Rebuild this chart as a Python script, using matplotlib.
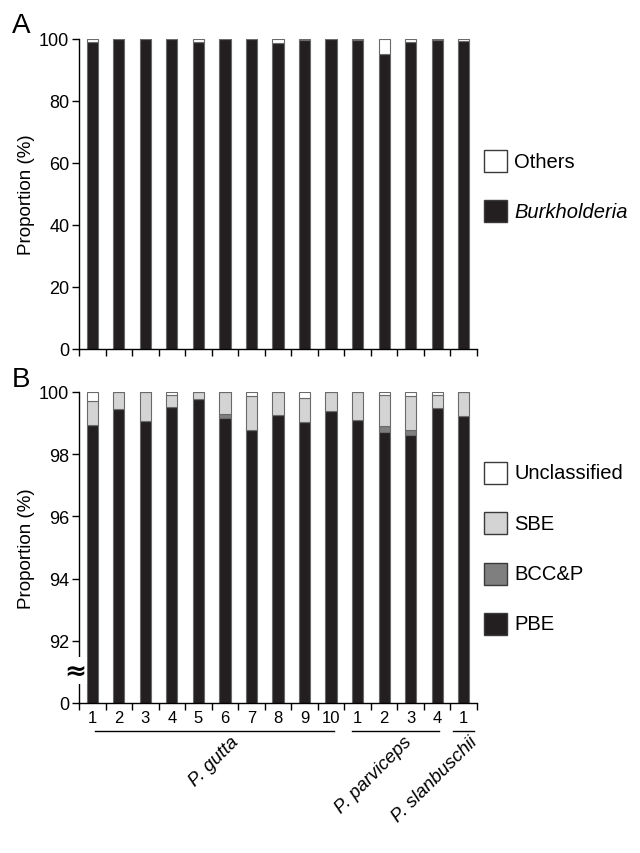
import numpy as np
import matplotlib
import matplotlib.pyplot as plt
from matplotlib.patches import Rectangle
from matplotlib.transforms import blended_transform_factory

matplotlib.use("Agg")
plt.rcParams['font.family'] = ['Liberation Sans', 'DejaVu Sans']

# sample labels and groups
sample_labels = ['1', '2', '3', '4', '5', '6', '7', '8', '9', '10',
                 '1', '2', '3', '4', '1']
groups = ['P. gutta', 'P. parviceps', 'P. slanbuschii']

# panel A (%)
burkholderia = [99.0, 100, 100, 100, 99.0, 100, 100, 98.7, 99.7, 100,
                99.7, 95.2, 99.0, 99.8, 99.2]
others = [1.0, 0, 0, 0, 1.0, 0, 0, 1.3, 0.3, 0,
          0.3, 4.8, 1.0, 0.2, 0.8]

# panel B (%)
pbe = [98.95, 99.45, 99.06, 99.53, 99.76, 99.17, 98.77, 99.26, 99.02, 99.40,
       99.10, 98.70, 98.62, 99.50, 99.24]
bccp = [0, 0, 0, 0, 0, 0.13, 0, 0, 0, 0,
        0, 0.21, 0.15, 0, 0]
sbe = [0.77, 0.55, 0.94, 0.37, 0.24, 0.70, 1.11, 0.74, 0.78, 0.60,
       0.90, 0.99, 1.11, 0.41, 0.76]
unclassified = [0.28, 0, 0, 0.10, 0, 0, 0.12, 0, 0.20, 0,
                0, 0.10, 0.12, 0.09, 0]

BLACK = '#231f20'
LIGHT = '#d4d4d4'
MID = '#7f7f7f'
EDGE = '#6a6a6a'
W, H = 640, 854

x = np.arange(len(sample_labels))
bw = 0.42

fig = plt.figure(figsize=(W / 100, H / 100), dpi=100)
ax_a = fig.add_axes([79 / W, 1 - 350 / H, 398 / W, 310 / H])
ax_b = fig.add_axes([79 / W, 1 - 704 / H, 398 / W, 311 / H])


def style_axis(ax):
    for s in ['top', 'right']:
        ax.spines[s].set_visible(False)
    for s in ['left', 'bottom']:
        ax.spines[s].set_linewidth(1.0)
    ax.set_xlim(-0.5, 14.5)
    ax.set_xticks(x)
    ax.set_xticks(np.arange(-0.5, 15, 1), minor=True)
    ax.tick_params(axis='x', which='major', length=0, labelsize=12, pad=5)
    ax.tick_params(axis='x', which='minor', length=5, width=1.0,
                   direction='out')
    ax.tick_params(axis='y', length=5, width=1.0, labelsize=13, pad=2)
    ax.set_ylabel('Proportion (%)', fontsize=13.5)
    ax.yaxis.set_label_coords(-0.11, 0.5)


# panel A
bottom = np.zeros(len(x))
for vals, col in [(burkholderia, BLACK), (others, 'white')]:
    ax_a.bar(x, vals, bw, bottom=bottom, color=col, edgecolor=EDGE, lw=0.8)
    bottom += np.array(vals)
style_axis(ax_a)
ax_a.set_ylim(0, 100)
ax_a.set_yticks([0, 20, 40, 60, 80, 100])
ax_a.set_xticklabels([])

# panel B
bottom = np.zeros(len(x))
for vals, col in [(pbe, BLACK), (bccp, MID), (sbe, LIGHT),
                  (unclassified, 'white')]:
    ax_b.bar(x, vals, bw, bottom=bottom, color=col, edgecolor=EDGE, lw=0.8)
    bottom += np.array(vals)
style_axis(ax_b)
ax_b.set_ylim(90, 100)
ax_b.set_yticks([90, 92, 94, 96, 98, 100])
ax_b.set_yticklabels(['0', '92', '94', '96', '98', '100'])
ax_b.set_xticklabels(sample_labels)

# axis break mark
trans_y = blended_transform_factory(ax_b.transAxes, ax_b.transData)
ax_b.text(-0.01, 91.05, '\u2248', transform=trans_y, ha='center',
          va='center', fontsize=19, fontweight='bold', clip_on=False,
          zorder=10, family='DejaVu Sans',
          bbox=dict(facecolor='white', edgecolor='none', pad=0.3))

# group lines and labels
trans_x = blended_transform_factory(ax_b.transData, ax_b.transAxes)
line_start = [0.1, 9.8, 13.6]
line_end = [9.1, 13.05, 14.4]
label_x = [5.2, 11.7, 14.2]
for g, x0, x1, lx in zip(groups, line_start, line_end, label_x):
    ax_b.plot([x0, x1], [-0.09, -0.09], color='black', lw=1.0,
              transform=trans_x, clip_on=False)
    ax_b.text(lx, -0.095, g, transform=trans_x, rotation=45,
              rotation_mode='anchor', ha='right', va='top',
              fontsize=13.5, style='italic')


def draw_legend(entries, top_px):
    for i, (label, col, ital) in enumerate(entries):
        y0 = top_px + i * 50.3
        fig.patches.append(Rectangle((484 / W, 1 - (y0 + 22) / H),
                                     23 / W, 22 / H,
                                     transform=fig.transFigure,
                                     facecolor=col, edgecolor='#3a3a3a',
                                     lw=1.0))
        fig.text(514 / W, 1 - (y0 + 11) / H, label, va='center',
                 ha='left', fontsize=14.5,
                 style='italic' if ital else 'normal')


draw_legend([('Others', 'white', False),
             ('Burkholderia', BLACK, True)], 151)
draw_legend([('Unclassified', 'white', False),
             ('SBE', LIGHT, False),
             ('BCC&P', MID, False),
             ('PBE', BLACK, False)], 463)

fig.text(12 / W, 1 - 33 / H, 'A', fontsize=20, va='baseline')
fig.text(12 / W, 1 - 387 / H, 'B', fontsize=20, va='baseline')

plt.savefig('out.png', dpi=100)
plt.close(fig)
